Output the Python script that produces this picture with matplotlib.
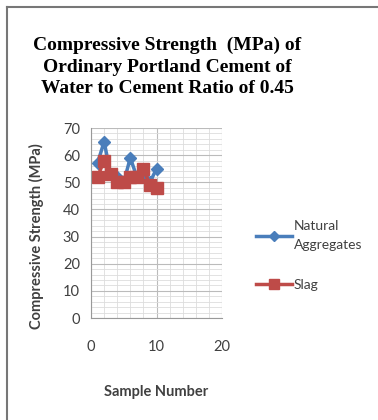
import matplotlib
matplotlib.use("Agg")
import matplotlib.pyplot as plt
from matplotlib.lines import Line2D
from matplotlib.ticker import MultipleLocator

samples = [1, 2, 3, 4, 5, 6, 7, 8, 9, 10]
natural = [57, 65, 53, 52, 50, 59, 52, 52, 50, 55]
slag = [52, 58, 53, 50, 50, 52, 52, 55, 49, 48]

W, H = 378, 420
fig = plt.figure(figsize=(W/100, H/100), dpi=100)
fig.patch.set_facecolor("white")
# outer frame (left and top edges visible)
fig.add_artist(Line2D([7/W, 7/W], [0, 1-7/H], transform=fig.transFigure,
                      color="#777777", linewidth=1.5))
fig.add_artist(Line2D([7/W, 1], [1-7/H, 1-7/H], transform=fig.transFigure,
                      color="#777777", linewidth=1.5))

ax = fig.add_axes([91/W, 1-318/H, (222-91)/W, (318-128)/H])
ax.plot(samples, natural, color="#4a7ebb", marker="D", markersize=6, linewidth=2.5,
        label="Natural\nAggregates")
ax.plot(samples, slag, color="#be4b48", marker="s", markersize=9, linewidth=2.5,
        label="Slag")
ax.set_xlim(0, 20)
ax.set_ylim(0, 70)
ax.xaxis.set_major_locator(MultipleLocator(10))
ax.yaxis.set_major_locator(MultipleLocator(10))
ax.xaxis.set_minor_locator(MultipleLocator(2))
ax.yaxis.set_minor_locator(MultipleLocator(2))
ax.grid(which="major", color="#bbbbbb", linewidth=0.8)
ax.grid(which="minor", color="#dddddd", linewidth=0.6)
ax.set_axisbelow(True)
for s in ["top", "right"]:
    ax.spines[s].set_visible(False)
for s in ["left", "bottom"]:
    ax.spines[s].set_color("#999999")
ax.tick_params(which="both", length=0, labelsize=10.5, colors="#404040")
ax.tick_params(axis="x", pad=16)
ax.tick_params(axis="y", pad=8)
for lab in ax.get_xticklabels() + ax.get_yticklabels():
    lab.set_family("Lato")
ax.set_xlabel("Sample Number", fontsize=10.5, fontweight="bold", color="#404040",
              labelpad=22, family="Lato")
ax.set_ylabel("Compressive Strength (MPa)", fontsize=10.5, fontweight="bold",
              color="#404040", family="Lato")
ax.yaxis.set_label_coords(-0.36, 0.43)

fig.text(167/W, 1-67/H, "Compressive Strength  (MPa) of\nOrdinary Portland Cement of\nWater to Cement Ratio of 0.45",
         ha="center", va="center", family="Liberation Serif", fontweight="bold",
         fontsize=14, linespacing=1.35)

leg = ax.legend(loc="center left", bbox_to_anchor=(1.26, 0.33), frameon=False,
                prop={"family": "Lato", "size": 10}, handlelength=2.6, labelspacing=2.0,
                handletextpad=0.1, borderaxespad=0, borderpad=0, markerscale=0.8)
for t in leg.get_texts():
    t.set_color("#404040")
    t.set_linespacing(1.7)

fig.savefig("out.png", dpi=100)
